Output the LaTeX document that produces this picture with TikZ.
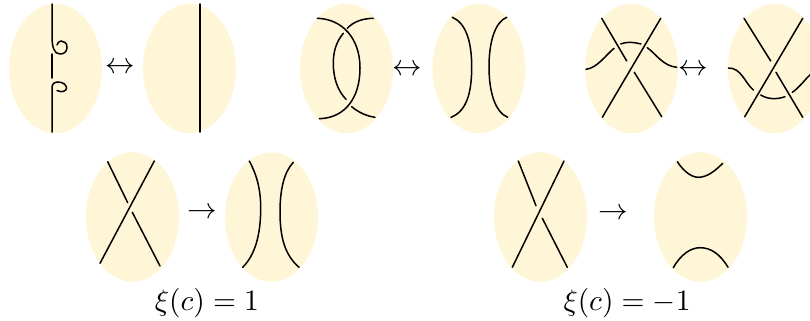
\documentclass[tikz,border=0pt]{standalone}
\definecolor{pale}{HTML}{FFF5D7}
\tikzset{
  disc/.style={fill=pale,draw=none},
  strand/.style={line width=0.6pt,black,line cap=round},
  lab/.style={inner sep=0pt,outer sep=0pt,scale=1.18}
}
\begin{document}
\begin{tikzpicture}[x=0.4pt,y=-0.4pt]
\useasboundingbox (0,0) rectangle (810,320);
\begin{scope}
\clip (0,0) rectangle (810,320);
\foreach \cx/\cy in {55.5/68.5,189.5/68.5,346.5/68.5,479/68.5,631.5/68.5,774.5/68.5,132.5/217,271.5/217,540.5/217,700.5/217}
  \fill[disc] (\cx,\cy) ellipse [x radius=18.6pt,y radius=25.9pt];
% 1: kinks
\draw[strand] (52,4) -- (52,36) .. controls (52,47) and (54,54) .. (60,54) .. controls (65,54) and (67,51) .. (67,47) .. controls (67,43) and (64,41) .. (61,41) .. controls (59,41) and (57.5,43) .. (57,45);
\draw[strand] (52,54) -- (52,78);
\draw[strand] (52,132) -- (52,88) .. controls (52,84) and (54,82) .. (58,82) .. controls (63,82) and (66.5,85) .. (66.5,88) .. controls (66.5,91) and (62,93) .. (57,90.5);
% 2
\draw[strand] (200,4) -- (200,132);
% 3: Reidemeister II
\draw[strand] (317.3,18.3) .. controls (342,19) and (360,38) .. (360,68) .. controls (360,98) and (345,118) .. (319.3,118.7);
\draw[strand] (373.3,18.3) .. controls (362,18.5) and (353,22) .. (347.3,28.3);
\draw[strand] (343.3,33.3) .. controls (336,42) and (333.3,52) .. (333.3,63) .. controls (333.3,77) and (337,90) .. (346,99.3);
\draw[strand] (351.7,106.7) .. controls (358,112) and (366,116) .. (375,117.3);
% 4
\draw[strand] (452.3,17.3) .. controls (466,23) and (471.7,42) .. (471.7,66.7) .. controls (471.7,92) and (467,111) .. (451,117.3);
\draw[strand] (506.7,17.3) .. controls (495,22) and (489,42) .. (489,66.7) .. controls (489,92) and (495,112) .. (507.7,117.3);
% 5: Reidemeister III
\draw[strand] (660.7,18.3) -- (602.3,117.3);
\draw[strand] (601.7,18.3) -- (626.7,61);
\draw[strand] (634.3,72.3) -- (661.7,116.7);
\draw[strand] (586,69.3) .. controls (597,68) and (605,56) .. (614,48.3);
\draw[strand] (620.7,44) .. controls (626,41.8) and (632,41.8) .. (641,44);
\draw[strand] (647.3,47.7) .. controls (656,54) and (663,66) .. (676.7,67.3);
% 6
\draw[strand] (802.7,18.3) -- (744.7,116.7);
\draw[strand] (744,18.3) -- (770.7,61);
\draw[strand] (776,72.3) -- (802.7,117.3);
\draw[strand] (728.3,68) .. controls (741,67.5) and (745,83) .. (753.3,90);
\draw[strand] (760.7,95) .. controls (768,99.5) and (777,99.5) .. (785,96.7);
\draw[strand] (792.3,92.3) .. controls (800,87) and (806,78) .. (812,73);
% 7
\draw[strand] (154.3,161) -- (100,263.3);
\draw[strand] (107.7,161.7) -- (127.7,202.7);
\draw[strand] (132.3,212.3) -- (160,266);
% 8
\draw[strand] (249.3,161) .. controls (257,175) and (260.7,190) .. (260.7,208) .. controls (260.7,235) and (255,255) .. (242.7,267.3);
\draw[strand] (293.3,162.3) .. controls (284,172) and (280,190) .. (280,211.7) .. controls (280,238) and (285,255) .. (299,267.3);
% 9
\draw[strand] (564,161) -- (512.3,267.3);
\draw[strand] (518.3,161) -- (536,205.7);
\draw[strand] (542.3,218.3) -- (567.3,267.3);
% 10
\draw[strand] (677.3,161.7) .. controls (684,172) and (692,177.3) .. (698.3,177.3) .. controls (707,177.3) and (715,171) .. (722.7,163.3);
\draw[strand] (673.3,267.7) .. controls (681,254) and (691,247.7) .. (700,247.7) .. controls (711,247.7) and (720,254) .. (728,267.3);
\end{scope}
\node[lab] (a1) at (120,68) {$\leftrightarrow$};
\node[lab] (a2) at (407,70) {$\leftrightarrow$};
\node[lab] (a3) at (693,70) {$\leftrightarrow$};
\node[lab] (a4) at (202,213) {$\rightarrow$};
\node[lab] (a5) at (613,214) {$\rightarrow$};
\node[lab] (l1) at (207,303) {$\xi(c)=1$};
\node[lab] (l2) at (627,303) {$\xi(c)=-1$};
\end{tikzpicture}
\end{document}
